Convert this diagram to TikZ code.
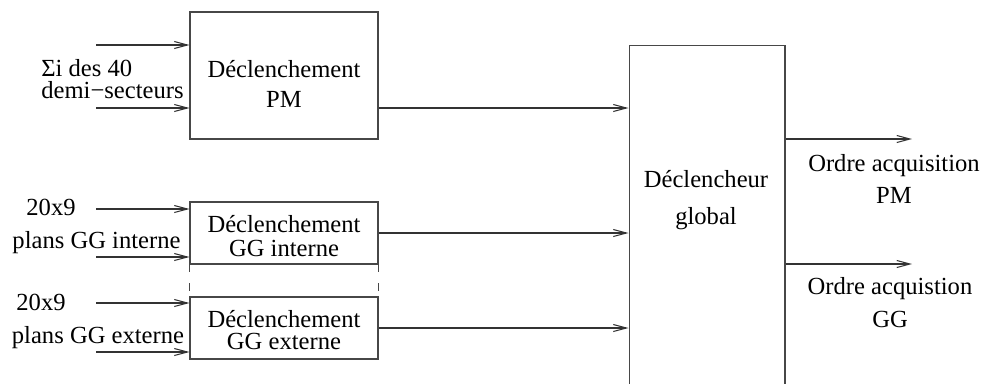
\documentclass[tikz,border=0pt]{standalone}
\usepackage{fontspec}
\setmainfont{Liberation Serif}
\usetikzlibrary{arrows.meta}

\begin{document}
\begin{tikzpicture}[x=0.02cm, y=-0.02cm,
	every node/.style={font=\fontsize{14}{12}\selectfont, inner sep=0pt},
	bloc/.style={draw=black!72, line width=0.6pt, rectangle, minimum width=3.76cm},
	fleche/.style={draw=black!80, line width=0.6pt, -{Straight Barb[length=7.5pt,width=4pt]}},
	pointille/.style={draw=black!72, line width=0.6pt, dash pattern={on 4.5pt off 6.2pt}}
	]
	%%%%% START %%%%%
	\useasboundingbox (0,0) rectangle (986,383);
	\clip (0,0) rectangle (986,383);
	
	% blocs
	\node[bloc, minimum height=2.54cm] (pm) at (284,75.5) {};
	\node[bloc, minimum height=1.24cm] (gi) at (284,233) {};
	\node[bloc, minimum height=1.24cm] (ge) at (284,328) {};
	\node[bloc, minimum width=3.12cm, minimum height=7cm, anchor=north] (glob) at (707,45) {};
	
	\node[align=center] (pmtxt) at (284,83.6) {Déclenchement\\[5pt]PM};
	\node[align=center] (gitxt) at (284,236.5) {Déclenchement\\[1.6pt]GG interne};
	\node[align=center] (getxt) at (284,330.1) {Déclenchement\\[1pt]GG externe};
	\node[align=center] (globtxt) at (706,200.2) {Déclencheur\\[9.5pt]global};
	
	% entrees
	\node[align=left, anchor=west] (sigma) at (41,79.1) {Σi des 40\\demi−secteurs};
	\node[anchor=base] (nbi) at (51,215) {20x9};
	\node[anchor=base] (plansi) at (96.5,248) {plans GG interne};
	\node[anchor=base] (nbe) at (41,310) {20x9};
	\node[anchor=base] (planse) at (98,343) {plans GG externe};
	
	\coordinate (in1) at (96,45);
	\coordinate (in2) at (96,108);
	\coordinate (in3) at (96,209);
	\coordinate (in4) at (96,257);
	\coordinate (in5) at (96,303);
	\coordinate (in6) at (96,352);
	
	\draw[fleche] (in1) -- (in1 -| pm.west);
	\draw[fleche] (in2) -- (in2 -| pm.west);
	\draw[fleche] (in3) -- (in3 -| gi.west);
	\draw[fleche] (in4) -- (in4 -| gi.west);
	\draw[fleche] (in5) -- (in5 -| ge.west);
	\draw[fleche] (in6) -- (in6 -| ge.west);
	
	\draw[pointille] (gi.south west) -- (ge.north west);
	\draw[pointille] (gi.south east) -- (ge.north east);
	
	% vers le declencheur global
	\draw[fleche] (pm.east |- 0,108) -- (glob.west |- 0,108);
	\draw[fleche] (gi.east) -- (gi.east -| glob.west);
	\draw[fleche] (ge.east) -- (ge.east -| glob.west);
	
	% sorties
	\coordinate (out1) at (912,139);
	\coordinate (out2) at (912,264);
	\draw[fleche] (glob.east |- out1) -- (out1);
	\draw[fleche] (glob.east |- out2) -- (out2);
	
	\node[align=center] (ordpm) at (894,178.6) {Ordre acquisition\\[5pt]PM};
	\node[align=center] (ordgg) at (890,302.6) {Ordre acquistion\\[6pt]GG};
	
	%%%%% END %%%%%
\end{tikzpicture}
\end{document}
